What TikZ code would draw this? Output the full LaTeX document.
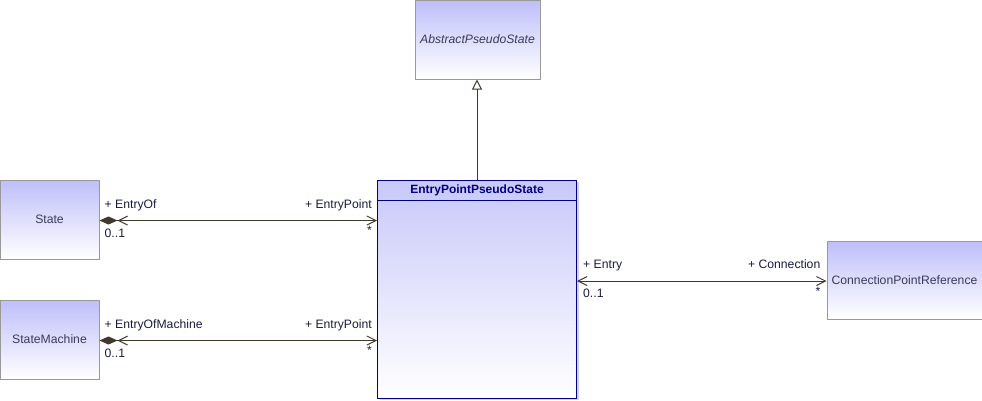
\documentclass[tikz,border=0pt]{standalone}
\usepackage{fontspec}
\setmainfont{Liberation Sans}
\usetikzlibrary{arrows.meta, positioning, shadows}

\definecolor{boxtop}{HTML}{BEBEFA}
\definecolor{boxline}{HTML}{999999}
\definecolor{mainline}{HTML}{000080}
\definecolor{maintop}{HTML}{C8C8FA}
\definecolor{edgecol}{HTML}{40382A}
\definecolor{nametext}{HTML}{3A3A5C}
\definecolor{roletext}{HTML}{1A1A40}

\tikzset{
  classbox/.style={draw=boxline, line width=1pt, top color=boxtop, bottom color=white,
    text=nametext, minimum width=99pt, minimum height=79pt, inner sep=0pt,
    font=\fontsize{12.2}{14}\selectfont},
  role/.style={text=roletext, inner sep=0pt, font=\fontsize{12.2}{14}\selectfont},
  assoc/.style={draw=edgecol, line width=1pt,
    {Diamond[length=18pt,width=8pt] Straight Barb[length=9pt,width=9pt]}-{Straight Barb[length=9pt,width=9pt]}},
  nav/.style={draw=edgecol, line width=1pt,
    {Straight Barb[length=9pt,width=9pt]}-{Straight Barb[length=9pt,width=9pt]}},
  gen/.style={draw=edgecol, line width=1pt, -{Triangle[open,length=10pt,width=10pt,fill=white]}},
}

\begin{document}
\begin{tikzpicture}[x=1pt, y=-1pt]
  \useasboundingbox (0,0) rectangle (982,400);

  % Classes
  \node[classbox, minimum width=125pt, font=\fontsize{12.2}{14}\selectfont\itshape] (abstract) at (477.5,39.5) {AbstractPseudoState};
  \node[classbox] (state) at (49.5,219.5) {State};
  \node[classbox] (machine) at (49.5,339.5) {StateMachine};
  \node[classbox, minimum width=155pt, minimum height=78pt] (cpr) at (904.5,280) {ConnectionPointReference};

  % Main class with header
  \node[draw=mainline, line width=1pt, top color=maintop, bottom color=white, minimum width=199pt, minimum height=218pt,
    drop shadow={shadow xshift=2pt, shadow yshift=-2pt, fill=black!25!blue!30, opacity=0.6}] (epps) at (477,289) {};
  \node[anchor=north, minimum width=199pt, minimum height=21pt, inner sep=0pt, text=mainline,
    font=\fontsize{12}{14}\selectfont\bfseries] (eppsname) at (epps.north) {EntryPointPseudoState};
  \draw[mainline, line width=1pt] (eppsname.south west) -- (eppsname.south east);

  % Generalization
  \draw[gen] (epps.north) -- (epps.north |- abstract.south);

  % Associations
  \draw[assoc] ([yshift=-1pt]state.east) -- ([yshift=-1pt]state.east -| epps.west);
  \draw[assoc] ([yshift=-1pt]machine.east) -- ([yshift=-1pt]machine.east -| epps.west);
  \draw[nav] ([yshift=-1pt]cpr.west -| epps.east) -- ([yshift=-1pt]cpr.west);

  % Role names and multiplicities
  \node[role, anchor=base west] (entryof) at ([xshift=5pt, yshift=11.5pt]state.east) {+ EntryOf};
  \node[role, anchor=base west] (entryofm) at ([xshift=5pt, yshift=-17.5pt]state.east) {0..1};
  \node[role, anchor=base east] (entrypoint) at ([xshift=-5pt, yshift=11.5pt]state.east -| epps.west) {+ EntryPoint};
  \node[role, anchor=base east] (entrypointm) at ([xshift=-5pt, yshift=-15pt]state.east -| epps.west) {*};

  \node[role, anchor=base west] (entryofmachine) at ([xshift=5pt, yshift=11.5pt]machine.east) {+ EntryOfMachine};
  \node[role, anchor=base west] (entryofmachinem) at ([xshift=5pt, yshift=-17.5pt]machine.east) {0..1};
  \node[role, anchor=base east] (entrypoint2) at ([xshift=-5pt, yshift=11.5pt]machine.east -| epps.west) {+ EntryPoint};
  \node[role, anchor=base east] (entrypoint2m) at ([xshift=-5pt, yshift=-15pt]machine.east -| epps.west) {*};

  \node[role, anchor=base west] (entry) at ([xshift=6pt, yshift=11.5pt]cpr.west -| epps.east) {+ Entry};
  \node[role, anchor=base west] (entrym) at ([xshift=6pt, yshift=-17.5pt]cpr.west -| epps.east) {0..1};
  \node[role, anchor=base east] (connection) at ([xshift=-6pt, yshift=11.5pt]cpr.west) {+ Connection};
  \node[role, anchor=base east] (connectionm) at ([xshift=-6pt, yshift=-15pt]cpr.west) {*};
\end{tikzpicture}
\end{document}
